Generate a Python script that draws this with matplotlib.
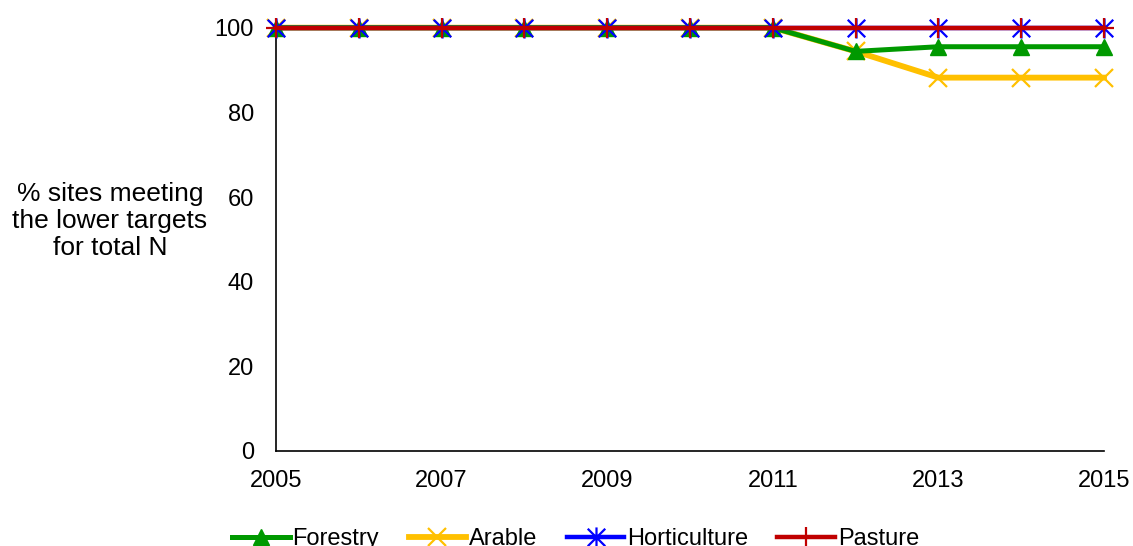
import matplotlib
matplotlib.use("Agg")
import matplotlib.pyplot as plt
from matplotlib.path import Path

plt.rcParams['font.family'] = ['Liberation Sans', 'DejaVu Sans']

years = [2005, 2006, 2007, 2008, 2009, 2010, 2011, 2012, 2013, 2014, 2015]
forestry = [100, 100, 100, 100, 100, 100, 100, 94.4, 95.5, 95.5, 95.5]
arable = [100, 100, 100, 100, 100, 100, 100, 94.4, 88.2, 88.2, 88.2]
horticulture = [100] * 11
pasture = [100] * 11
xticks = [2005, 2007, 2009, 2011, 2013, 2015]
yticks = [0, 20, 40, 60, 80, 100]

asterisk = Path([(-1, -1), (1, 1), (-1, 1), (1, -1), (0, -1.15), (0, 1.15)],
                [Path.MOVETO, Path.LINETO, Path.MOVETO, Path.LINETO, Path.MOVETO, Path.LINETO])

fig = plt.figure(figsize=(11.33, 5.46), dpi=100)
ax = fig.add_axes([0.2436, 0.174, 0.7308, 0.7753])

ax.plot(years, forestry, color='#009900', lw=3.6, marker='^', ms=11, label='Forestry', zorder=3, clip_on=False)
ax.plot(years, arable, color='#FFC000', lw=4.2, marker='x', ms=13, mew=1.6, label='Arable', zorder=2, clip_on=False)
ax.plot(years, horticulture, color='#0000FF', lw=3.2, marker=asterisk, ms=14.5, mew=1.6, label='Horticulture', zorder=4, clip_on=False)
ax.plot(years, pasture, color='#C00000', lw=3.2, marker='+', ms=14.5, mew=1.6, label='Pasture', zorder=5, clip_on=False)

ax.set_xlim(2005, 2015)
ax.set_ylim(0, 100)
ax.set_xticks(xticks)
ax.set_yticks(yticks)
ax.tick_params(axis='both', length=0, labelsize=17)
ax.tick_params(axis='y', pad=16)
ax.tick_params(axis='x', pad=14)
for s in ['top', 'right']:
    ax.spines[s].set_visible(False)
for s in ['left', 'bottom']:
    ax.spines[s].set_color('#000000')
    ax.spines[s].set_linewidth(1.2)

fig.text(0.097, 0.595, '% sites meeting\nthe lower targets\nfor total N', ha='center', va='center',
         fontsize=19, linespacing=1.15)

fig.legend(loc='center', bbox_to_anchor=(0.508, 0.013), ncol=4, frameon=False, fontsize=17,
           handlelength=2.45, handletextpad=0.1, columnspacing=1.25, borderaxespad=0)

fig.savefig('out.png', dpi=100)
